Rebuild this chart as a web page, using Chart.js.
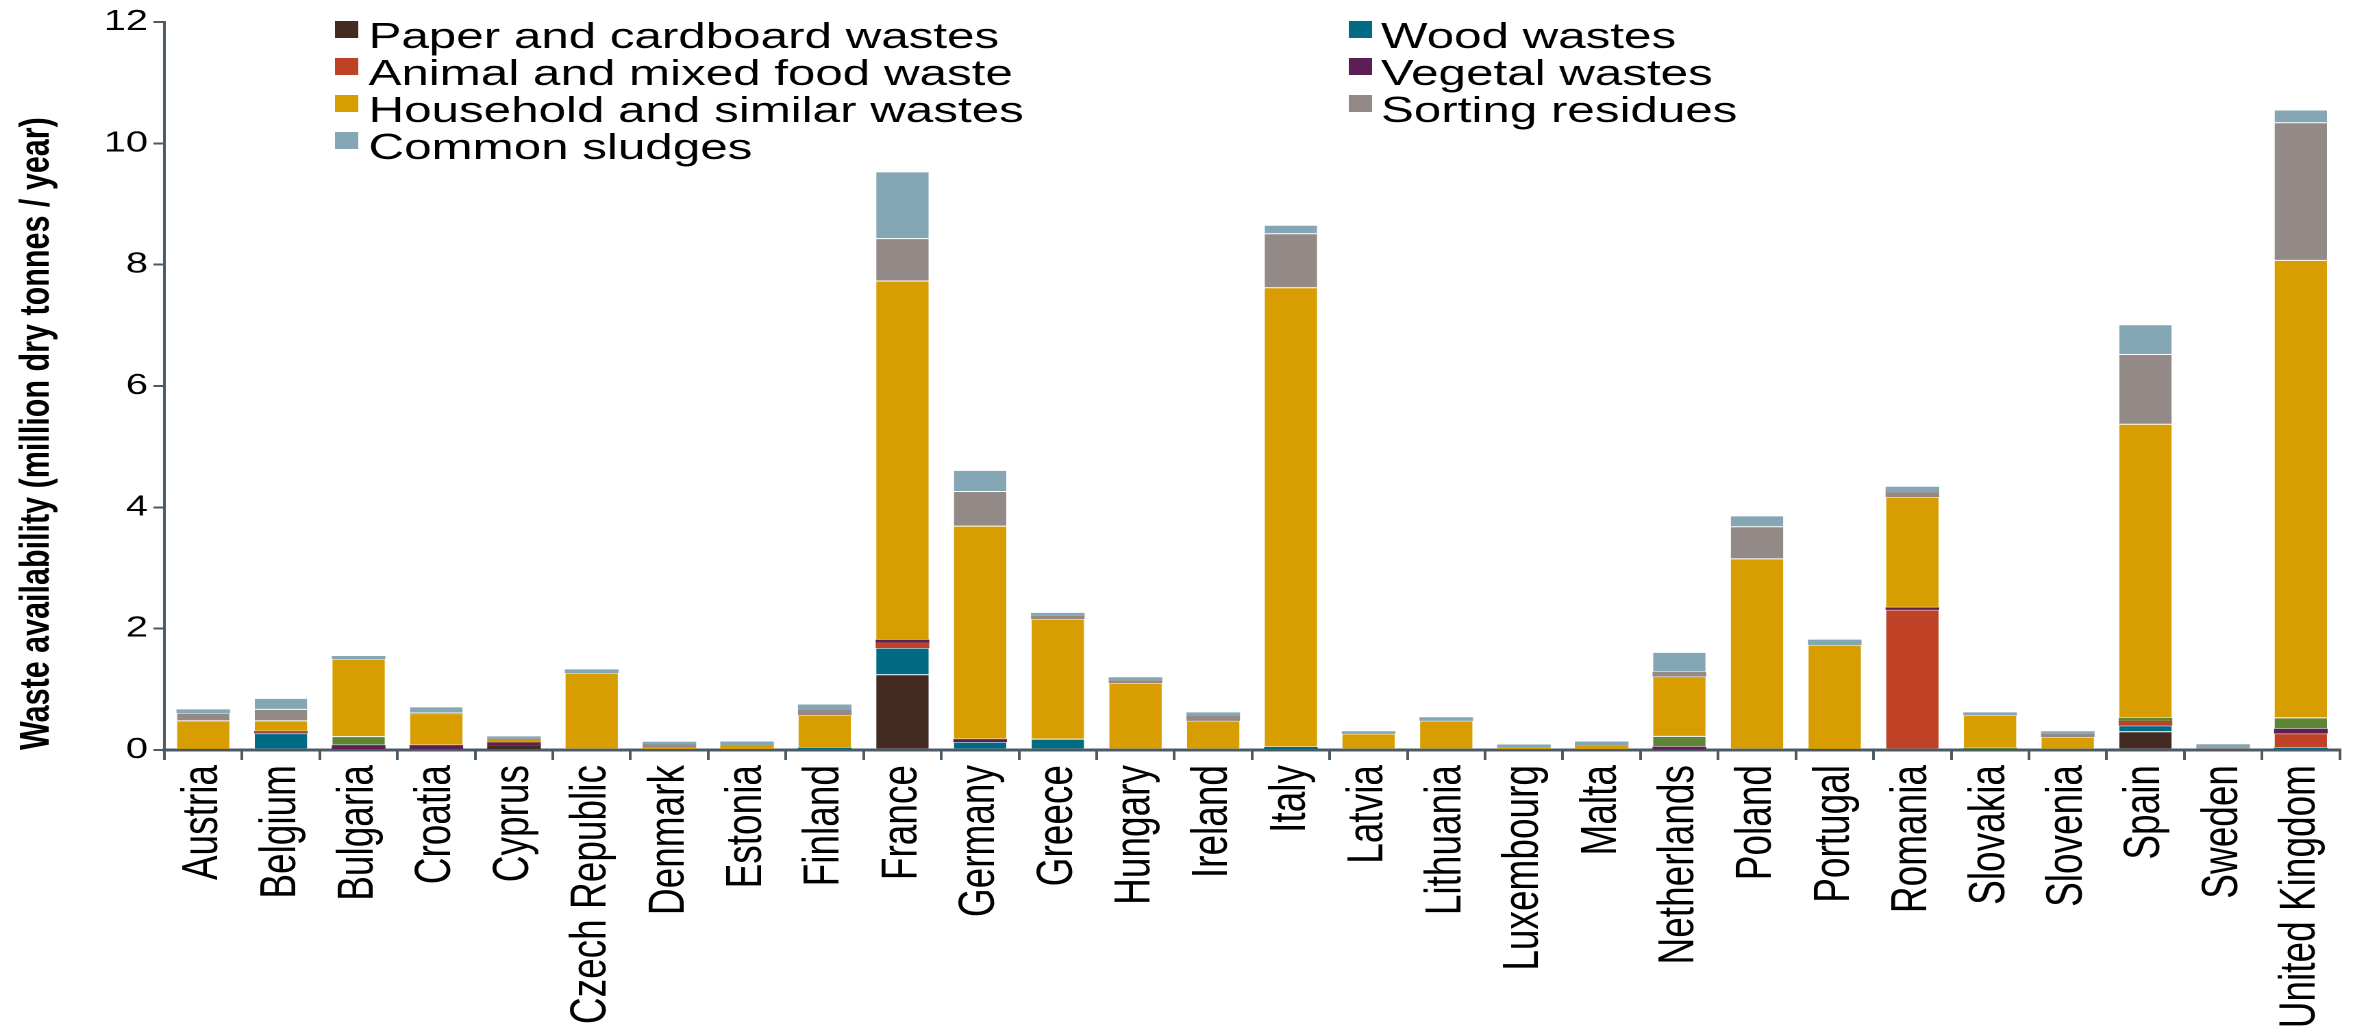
<!DOCTYPE html>
<html>
<head>
<meta charset="utf-8">
<script src="https://cdn.jsdelivr.net/npm/chart.js@4/dist/chart.umd.min.js"></script>
<style>
  html, body { margin: 0; padding: 0; background: #fff; overflow: hidden; }
  /* the figure is laid out narrow and widened horizontally */
  #wrap { position: absolute; left: 0; top: 0; width: 1729px; height: 1034px;
          transform: scaleX(1.37); transform-origin: 0 0; }
</style>
</head>
<body>
<div id="wrap"><canvas id="c"></canvas></div>
<script>
// Waste availability by country (million dry tonnes / year)
const countries = ['Austria', 'Belgium', 'Bulgaria', 'Croatia', 'Cyprus', 'Czech Republic', 'Denmark',
  'Estonia', 'Finland', 'France', 'Germany', 'Greece', 'Hungary', 'Ireland', 'Italy', 'Latvia',
  'Lithuania', 'Luxembourg', 'Malta', 'Netherlands', 'Poland', 'Portugal', 'Romania', 'Slovakia',
  'Slovenia', 'Spain', 'Sweden', 'United Kingdom'];

const paperWaste     = [0.01, 0, 0, 0, 0.08, 0, 0, 0, 0, 1.24, 0, 0, 0, 0, 0, 0, 0, 0, 0, 0.01, 0, 0.01, 0, 0, 0, 0.30, 0, 0];
const woodWaste      = [0, 0.27, 0, 0, 0, 0, 0, 0, 0.04, 0.44, 0.13, 0.18, 0, 0, 0.05, 0, 0, 0, 0, 0, 0, 0, 0, 0, 0, 0.10, 0, 0.04];
const animalFood     = [0, 0.02, 0, 0, 0, 0, 0, 0, 0, 0.09, 0, 0, 0, 0, 0, 0, 0, 0, 0, 0, 0, 0, 2.31, 0, 0, 0.08, 0, 0.23];
const vegetalWaste   = [0, 0.02, 0.08, 0.08, 0.045, 0, 0, 0, 0, 0.05, 0.05, 0, 0, 0, 0, 0, 0, 0, 0, 0.045, 0, 0, 0.04, 0, 0, 0, 0, 0.08];
const greenWaste     = [0, 0, 0.14, 0, 0, 0, 0, 0, 0, 0, 0, 0, 0, 0, 0, 0, 0, 0, 0, 0.17, 0, 0, 0, 0.04, 0, 0.05, 0, 0.18];
const householdWaste = [0.47, 0.17, 1.28, 0.52, 0.04, 1.27, 0.04, 0.075, 0.53, 5.91, 3.51, 1.98, 1.10, 0.48, 7.57, 0.265, 0.48, 0.045, 0.08, 0.985, 3.15, 1.72, 1.82, 0.53, 0.215, 4.84, 0, 7.54];
const sortingResidue = [0.13, 0.19, 0, 0.01, 0.02, 0, 0.05, 0, 0.09, 0.70, 0.57, 0.05, 0.05, 0.09, 0.89, 0, 0, 0, 0, 0.08, 0.53, 0, 0.08, 0, 0.05, 1.15, 0.045, 2.27];
const commonSludge   = [0.06, 0.18, 0.05, 0.10, 0.04, 0.06, 0.045, 0.065, 0.09, 1.10, 0.35, 0.05, 0.05, 0.05, 0.14, 0.045, 0.06, 0.045, 0.06, 0.32, 0.18, 0.09, 0.09, 0.05, 0.045, 0.49, 0.05, 0.21];

const yTicks = [0, 2, 4, 6, 8, 10, 12];

const AXIS = '#4b5a64';
const FAMILY = '"Liberation Sans", Arial, Helvetica, sans-serif';

function series(label, data, color, inLegend) {
  return {
    label, data, backgroundColor: color, inLegend,
    borderColor: 'rgba(255,255,255,0.3)',
    // only the thicker segments get the faint light edge
    borderWidth: c => (c.raw >= 0.1 ? 0.5 : 0),
    borderSkipped: false
  };
}

const datasets = [
  series('Paper and cardboard wastes', paperWaste, '#432b22', true),
  series('Wood wastes', woodWaste, '#006b82', true),
  series('Animal and mixed food waste', animalFood, '#bf4227', true),
  series('Vegetal wastes', vegetalWaste, '#5b1e55', true),
  series('Green wastes', greenWaste, '#5d8535', false),
  series('Household and similar wastes', householdWaste, '#d89d00', true),
  series('Sorting residues', sortingResidue, '#938a88', true),
  series('Common sludges', commonSludge, '#85a6b5', true)
];

// two-column legend in the upper part of the plot, filled row by row
const cornerLegend = {
  id: 'cornerLegend',
  afterDraw(chart, args, o) {
    const ctx = chart.ctx;
    const items = chart.data.datasets.filter(d => d.inLegend);
    ctx.save();
    ctx.font = o.font;
    ctx.textBaseline = 'alphabetic';
    ctx.textAlign = 'left';
    items.forEach((ds, i) => {
      const col = o.columns[i % 2];
      const row = Math.floor(i / 2);
      const sy = o.top + row * o.rowGap;
      ctx.fillStyle = ds.backgroundColor;
      ctx.fillRect(col.swatchX, sy, o.box, o.box);
      ctx.fillStyle = '#000';
      ctx.fillText(ds.label, col.textX, sy + o.baseline);
    });
    ctx.restore();
  }
};

new Chart(document.getElementById('c'), {
  type: 'bar',
  data: { labels: countries, datasets },
  plugins: [cornerLegend],
  options: {
    responsive: true,
    maintainAspectRatio: false,
    animation: false,
    devicePixelRatio: 2,
    layout: { padding: { left: 4, top: 22, right: 9, bottom: 0 } },
    datasets: { bar: { barPercentage: 0.69, categoryPercentage: 1.0 } },
    plugins: {
      legend: { display: false },
      tooltip: { enabled: false },
      cornerLegend: {
        font: '36px ' + FAMILY,
        columns: [{ swatchX: 244.5, textX: 269 }, { swatchX: 984.5, textX: 1008 }],
        top: 21, rowGap: 37, box: 17, baseline: 27
      }
    },
    scales: {
      x: {
        stacked: true,
        grid: { display: true, drawOnChartArea: false, drawTicks: true, tickLength: 10,
                color: AXIS, lineWidth: 2, offset: true },
        border: { display: true, color: AXIS, width: 3 },
        ticks: { minRotation: 90, maxRotation: 90, autoSkip: false, padding: 5, color: '#000',
                 font: { family: FAMILY, size: 37 } },
        afterFit(s) { s.height = 284; }
      },
      y: {
        stacked: true,
        min: 0, max: 12,
        afterBuildTicks(s) { s.ticks = yTicks.map(v => ({ value: v })); },
        grid: { display: true, drawOnChartArea: false, drawTicks: true, tickLength: 8,
                color: AXIS, lineWidth: 2 },
        border: { display: true, color: AXIS, width: 2 },
        ticks: { padding: 4, color: '#000', font: { family: FAMILY, size: 29 } },
        title: {
          display: true, text: 'Waste availability (million dry tonnes / year)',
          align: 'start', color: '#000',
          font: { family: FAMILY, size: 30.5, weight: 'bold' },
          padding: { top: 5, bottom: 0 }
        },
        afterFit(s) { s.width = 116; }
      }
    }
  }
});
</script>
</body>
</html>
